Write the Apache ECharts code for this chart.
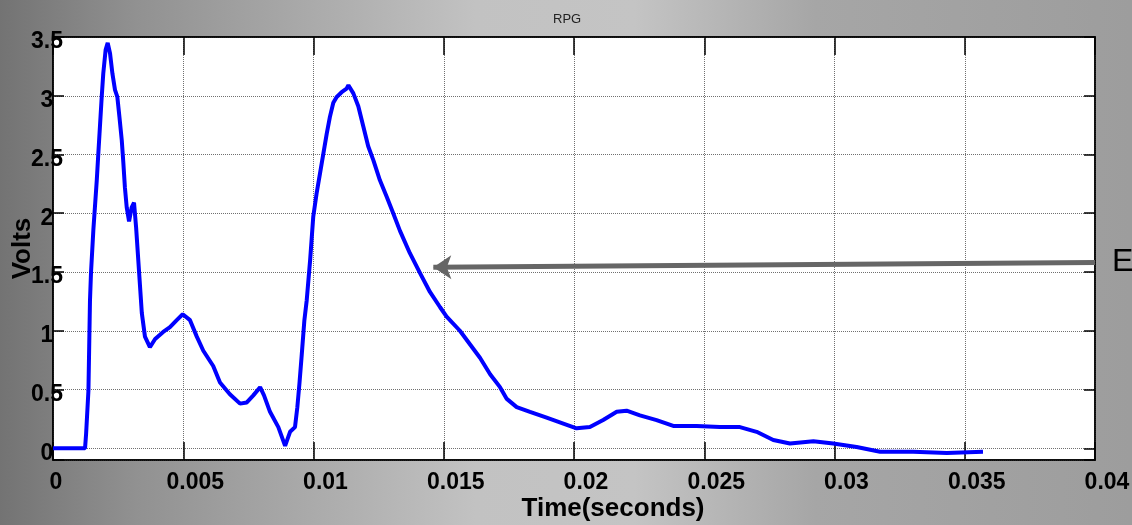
<!DOCTYPE html>
<html>
<head>
<meta charset="utf-8">
<script src="https://cdn.jsdelivr.net/npm/echarts@6/dist/echarts.min.js"></script>
<style>html,body{margin:0;padding:0;}#c{width:1132px;height:525px;}</style>
</head>
<body>
<div id="c"></div>
<script>
// Time (s) and voltage (V)
var timeS = [0,0.00065,0.00123,0.00127,0.00136,0.00142,0.00146,0.00155,0.00168,0.00174,0.00180,0.00187,0.00193,0.00202,0.00210,0.00219,0.00228,0.00238,0.00247,0.00255,0.00264,0.00270,0.00276,0.00283,0.00292,0.00302,0.00311,0.00319,0.00341,0.00353,0.00372,0.00392,0.00423,0.00449,0.00475,0.00498,0.00526,0.00552,0.00577,0.00615,0.00641,0.00679,0.00718,0.00744,0.00769,0.00795,0.00810,0.00833,0.00865,0.00891,0.00910,0.00929,0.00938,0.00946,0.00955,0.00965,0.00974,0.00987,0.00999,0.01012,0.01025,0.01038,0.01051,0.01063,0.01076,0.01089,0.01108,0.01127,0.01134,0.01153,0.01172,0.01191,0.01210,0.01230,0.01255,0.01281,0.01306,0.01332,0.01370,0.01409,0.01447,0.01486,0.01511,0.01562,0.01639,0.01678,0.01716,0.01742,0.01780,0.01831,0.01895,0.01959,0.02010,0.02061,0.02112,0.02164,0.02202,0.02253,0.02317,0.02381,0.02471,0.02560,0.02637,0.02701,0.02765,0.02829,0.02919,0.02995,0.03085,0.03175,0.03302,0.03431,0.03570];
var volts = [0.00,0.00,0.00,0.12,0.49,1.26,1.50,1.86,2.28,2.51,2.73,2.99,3.19,3.39,3.45,3.36,3.19,3.05,2.99,2.82,2.62,2.43,2.22,2.05,1.93,2.05,2.09,1.88,1.15,0.95,0.86,0.93,0.99,1.03,1.09,1.14,1.09,0.95,0.83,0.70,0.56,0.46,0.38,0.39,0.45,0.52,0.45,0.31,0.18,0.02,0.14,0.18,0.35,0.55,0.80,1.09,1.26,1.60,1.97,2.17,2.34,2.51,2.68,2.82,2.94,2.99,3.03,3.06,3.09,3.02,2.91,2.74,2.57,2.45,2.28,2.14,2.00,1.85,1.66,1.49,1.33,1.20,1.12,1.00,0.77,0.63,0.52,0.42,0.35,0.31,0.26,0.21,0.17,0.18,0.24,0.31,0.32,0.28,0.24,0.19,0.19,0.18,0.18,0.14,0.07,0.04,0.06,0.04,0.01,-0.03,-0.03,-0.04,-0.03];
var xTickLabels = ['0','0.005','0.01','0.015','0.02','0.025','0.03','0.035','0.04'];
var yTickLabels = ['0','0.5','1','1.5','2','2.5','3','3.5'];
var arrowStart = [0.04, 1.58];
var arrowEnd = [0.0146, 1.54];

var pts = timeS.map(function(t,i){return [t, volts[i]];});
var font = 'Liberation Sans, Arial, sans-serif';
var chart = echarts.init(document.getElementById('c'));
chart.setOption({
  animation: false,
  graphic: [
    {type:'rect', z:-100, silent:true, shape:{x:0,y:0,width:1132,height:525},
     style:{fill:{type:'linear',x:0,y:0,x2:1,y2:0,colorStops:[
       {offset:0,color:'#737373'},{offset:0.12,color:'#919191'},{offset:0.42,color:'#c2c2c2'},
       {offset:0.56,color:'#c4c4c4'},{offset:0.72,color:'#a6a6a6'},{offset:1,color:'#9d9d9d'}]}}},
    {type:'text', left:1112, top:246, z:100, style:{text:'E', font:'32px '+font, fill:'#000'}}
  ],
  title: {text:'RPG', left:548, top:8, textStyle:{fontSize:13, fontWeight:'normal', color:'#222', fontFamily:font}},
  grid: {left:53, right:37, top:37, bottom:65, outerBoundsMode:'none', containLabel:false,
         show:true, backgroundColor:'#ffffff', borderColor:'#000', borderWidth:1.5},
  xAxis: [{
    type:'value', min:0, max:0.04, interval:0.005,
    name:'Time(seconds)', nameLocation:'middle', nameGap:36, nameMoveOverlap:false,
    nameTextStyle:{fontSize:26, fontWeight:'bold', color:'#000', fontFamily:font, padding:[0,0,0,78]},
    axisLine:{show:true, onZero:false, lineStyle:{color:'#000', width:1.5}},
    axisTick:{show:true, inside:true, length:18, lineStyle:{color:'#000', width:1.5}},
    splitLine:{show:true, lineStyle:{color:'#707070', type:'dotted', width:1}},
    axisLabel:{show:true, margin:11, color:'#000', fontSize:23, fontWeight:'bold', fontFamily:font,
      formatter:function(v){var i=Math.round(v/0.005); var s=xTickLabels[i]; return i===0?'{z|'+s+'}':'{n|'+s+'}';},
      rich:{z:{fontSize:23,fontWeight:'bold',fontFamily:font,color:'#000',padding:[0,0,0,6]},
            n:{fontSize:23,fontWeight:'bold',fontFamily:font,color:'#000',padding:[0,0,0,24]}}}
  },{
    type:'value', min:0, max:0.04, interval:0.005, position:'top',
    axisLine:{show:true, onZero:false, lineStyle:{color:'#000', width:1.5}},
    axisTick:{show:true, inside:true, length:18, lineStyle:{color:'#000', width:1.5}},
    axisLabel:{show:false}, splitLine:{show:false}
  }],
  yAxis: [{
    type:'value', min:-0.1, max:3.5, minInterval:0.5, maxInterval:0.5, splitNumber:7,
    name:'Volts', nameLocation:'middle', nameGap:17, nameRotate:90, nameMoveOverlap:false,
    nameTextStyle:{fontSize:26, fontWeight:'bold', color:'#000', fontFamily:font},
    axisLine:{show:true, onZero:false, lineStyle:{color:'#000', width:1.5}},
    axisTick:{show:true, inside:true, length:11, lineStyle:{color:'#000', width:1.5}},
    splitLine:{show:true, lineStyle:{color:'#707070', type:'dotted', width:1}},
    axisLabel:{show:true, margin:6, align:'center', verticalAlign:'top', lineHeight:10,
      color:'#000', fontSize:23, fontWeight:'bold', fontFamily:font,
      formatter:function(v){ if(v<-0.01) return ''; var i=Math.round(v/0.5); return yTickLabels[i]||''; }}
  },{
    type:'value', min:-0.1, max:3.5, minInterval:0.5, maxInterval:0.5, splitNumber:7, position:'right',
    axisLine:{show:true, onZero:false, lineStyle:{color:'#000', width:1.5}},
    axisTick:{show:true, inside:true, length:11, lineStyle:{color:'#000', width:1.5}},
    axisLabel:{show:false}, splitLine:{show:false}
  }],
  series: [{
    type:'line', xAxisIndex:0, yAxisIndex:0, data:pts, showSymbol:false, symbol:'none',
    lineStyle:{color:'#0000ff', width:4}, itemStyle:{color:'#0000ff'}, z:5,
    markLine:{silent:true, symbol:['none','arrow'], symbolSize:[18,18], label:{show:false},
      lineStyle:{color:'#666666', width:5, type:'solid'}, emphasis:{disabled:true},
      data:[[{coord:arrowStart},{coord:arrowEnd}]]}
  }]
});
</script>
</body>
</html>
